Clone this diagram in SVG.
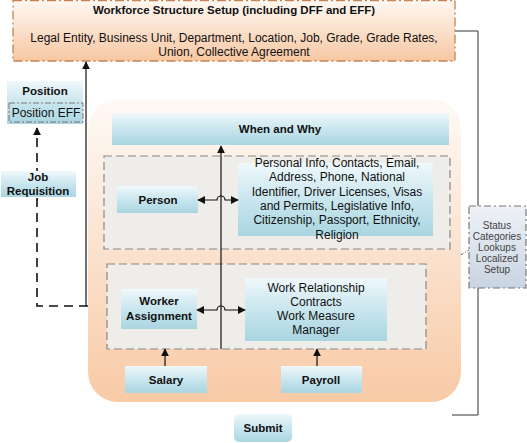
<svg xmlns="http://www.w3.org/2000/svg" width="527" height="443" viewBox="0 0 527 443">
<defs>
<linearGradient id="gBlue" x1="0" y1="0" x2="0" y2="1">
<stop offset="0" stop-color="#eff8fb"/>
<stop offset="0.5" stop-color="#c9e6ee"/>
<stop offset="1" stop-color="#a9d5e1"/>
</linearGradient>
<linearGradient id="gOrange" x1="0" y1="0" x2="0" y2="1">
<stop offset="0" stop-color="#fefaf6"/>
<stop offset="1" stop-color="#f8caa6"/>
</linearGradient>
<linearGradient id="gTop" x1="0" y1="0" x2="0" y2="1">
<stop offset="0" stop-color="#fef8f2"/>
<stop offset="1" stop-color="#f7c7a2"/>
</linearGradient>
<linearGradient id="gGray" x1="0" y1="0" x2="0" y2="1">
<stop offset="0" stop-color="#eef2f7"/>
<stop offset="1" stop-color="#c9d4e2"/>
</linearGradient>
<marker id="arr" viewBox="0 0 10 10" refX="9" refY="5" markerWidth="8" markerHeight="8" orient="auto-start-reverse" markerUnits="userSpaceOnUse">
<path d="M0,0 L10,5 L0,10 z" fill="#111"/>
</marker>
<style>
text{font-family:"Liberation Sans",Arial,sans-serif;fill:#111;text-anchor:middle}
.b{font-weight:bold;font-size:11.5px}
.r{font-size:12px}
.s{font-size:10px;fill:#444}
.box{fill:url(#gBlue)}
.grp{fill:#efede9;stroke:#888;stroke-width:1.2;stroke-dasharray:8,4}
.ln{fill:none;stroke:#111;stroke-width:1.2}
.dl{fill:none;stroke:#111;stroke-width:1.6;stroke-dasharray:9,6}
.thin{fill:none;stroke:#333;stroke-width:1}
</style>
</defs>
<rect width="527" height="443" fill="#fff"/>

<g id="connectors-back">
<path class="thin" d="M455,31 H478 V415 H452"/>
<path d="M459,256 L469,250" fill="none" stroke="#666" stroke-width="1" stroke-dasharray="5,2,1,2"/>
</g>

<g id="workforce">
<rect x="13" y="0.5" width="442" height="60.5" fill="url(#gTop)" stroke="#c58457" stroke-width="1.3" stroke-dasharray="9,3,2,3"/>
<text class="b" x="234" y="14">Workforce Structure Setup (including DFF and EFF)</text>
<text class="r" x="234" y="42">Legal Entity, Business Unit, Department, Location, Job, Grade, Grade Rates,</text>
<text class="r" x="234" y="56">Union, Collective Agreement</text>
</g>

<g id="main">
<rect x="88" y="99" width="373" height="303" rx="30" fill="url(#gOrange)"/>
</g>

<g id="when-why">
<rect class="box" x="112" y="113" width="337" height="32"/>
<text class="b" x="280" y="133">When and Why</text>
</g>

<g id="person-group">
<rect class="grp" x="104" y="156" width="346" height="93"/>
</g>
<g id="person">
<rect class="box" x="117" y="186" width="81" height="27"/>
<text class="b" x="158" y="204">Person</text>
</g>
<g id="person-info">
<rect class="box" x="238" y="163" width="195" height="73"/>
<text class="r" x="337" y="167">Personal Info, Contacts, Email,</text>
<text class="r" x="337" y="181">Address, Phone, National</text>
<text class="r" x="337" y="196">Identifier, Driver Licenses, Visas</text>
<text class="r" x="337" y="210">and Permits, Legislative Info,</text>
<text class="r" x="337" y="224">Citizenship, Passport, Ethnicity,</text>
<text class="r" x="337" y="239">Religion</text>
</g>

<g id="assignment-group">
<rect class="grp" x="107" y="264" width="319" height="85"/>
</g>
<g id="worker-assignment">
<rect class="box" x="121" y="289" width="76" height="40"/>
<text class="b" x="159" y="305">Worker</text>
<text class="b" x="159" y="320">Assignment</text>
</g>
<g id="work-relationship">
<rect class="box" x="245" y="278" width="142" height="63"/>
<text class="r" x="316" y="292">Work Relationship</text>
<text class="r" x="316" y="306">Contracts</text>
<text class="r" x="316" y="320">Work Measure</text>
<text class="r" x="316" y="334">Manager</text>
</g>

<g id="salary">
<rect class="box" x="125" y="366" width="82" height="27"/>
<text class="b" x="166" y="384">Salary</text>
</g>
<g id="payroll">
<rect class="box" x="281" y="366" width="81" height="27"/>
<text class="b" x="321" y="384">Payroll</text>
</g>
<g id="submit">
<rect class="box" x="234" y="414" width="58" height="28" rx="5"/>
<text class="b" x="263" y="432">Submit</text>
</g>

<g id="status">
<rect x="469" y="206" width="57" height="82" fill="url(#gGray)" stroke="#777" stroke-width="1.2" stroke-dasharray="7,3,2,3"/>
<text class="s" x="497" y="229">Status</text>
<text class="s" x="497" y="240">Categories</text>
<text class="s" x="497" y="251">Lookups</text>
<text class="s" x="497" y="262">Localized</text>
<text class="s" x="497" y="273">Setup</text>
</g>

<g id="position">
<rect class="box" x="7" y="81" width="76" height="43"/>
<text class="b" x="45" y="95">Position</text>
<rect x="9" y="103" width="74" height="19" fill="none" stroke="#777" stroke-width="1" stroke-dasharray="6,2,2,2"/>
<text class="r" x="46" y="117">Position EFF</text>
</g>

<g id="connectors">
<path class="dl" d="M88,306 H37 V128" marker-end="url(#arr)"/>
<path class="ln" d="M86,306 V62" marker-end="url(#arr)"/>
<path class="ln" d="M221,349 V146" marker-end="url(#arr)"/>
<path class="ln" d="M198,200 H217 a4,4 0 0 1 8,0 H238" marker-start="url(#arr)" marker-end="url(#arr)"/>
<path class="ln" d="M197,310 H217 a4,4 0 0 1 8,0 H245" marker-start="url(#arr)" marker-end="url(#arr)"/>
<path class="ln" d="M165,366 V349" marker-end="url(#arr)"/>
<path class="ln" d="M317,366 V349" marker-end="url(#arr)"/>
</g>

<g id="job-requisition">
<rect class="box" x="1" y="171" width="75" height="26"/>
<text class="b" x="38" y="181">Job</text>
<text class="b" x="38" y="195">Requisition</text>
</g>
</svg>
